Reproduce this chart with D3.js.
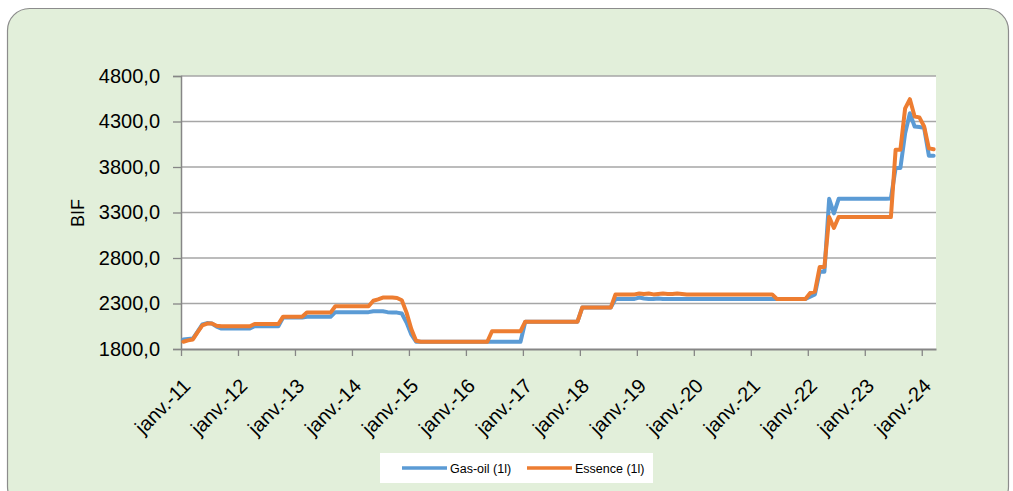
<!DOCTYPE html>
<html>
<head>
<meta charset="utf-8">
<script src="https://cdn.jsdelivr.net/npm/d3@7"></script>
<style>
  html, body { margin: 0; padding: 0; background: #ffffff; }
  svg { display: block; font-family: "Liberation Sans", Arial, sans-serif; }
</style>
</head>
<body>
<svg id="chart" width="1013" height="491"></svg>
<script>
// ---- Data (monthly, janv. 2011 – mars 2024), BIF per litre ----
const firstMonth = "2011-01";
const gasoil = [
  1905,1910,1915,1990,2070,2085,2080,2045,2025,2025,2025,2025, // 2011
  2025,2025,2025,2050,2050,2050,2050,2050,2050,2145,2145,2145, // 2012
  2145,2145,2155,2155,2155,2155,2155,2155,2205,2205,2205,2205, // 2013
  2205,2205,2205,2205,2215,2215,2215,2205,2200,2200,2190,2090, // 2014
  1960,1880,1880,1880,1880,1880,1880,1880,1880,1880,1880,1880, // 2015
  1880,1880,1880,1880,1880,1880,1880,1880,1880,1880,1880,1880, // 2016
  2100,2100,2100,2100,2100,2100,2100,2100,2100,2100,2100,2100, // 2017
  2255,2255,2255,2255,2255,2255,2255,2350,2350,2350,2350,2350, // 2018
  2365,2355,2350,2350,2355,2350,2350,2350,2350,2350,2350,2350, // 2019
  2350,2350,2350,2350,2350,2350,2350,2350,2350,2350,2350,2350, // 2020
  2350,2350,2350,2350,2350,2350,2350,2350,2350,2350,2350,2350, // 2021
  2375,2400,2650,2650,3450,3290,3450,3450,3450,3450,3450,3450, // 2022
  3450,3450,3450,3450,3450,3455,3790,3790,4170,4390,4245,4240, // 2023
  4230,3925,3925                                                // 2024
];
const essence = [
  1880,1895,1905,1985,2060,2080,2080,2055,2050,2050,2050,2050, // 2011
  2050,2050,2050,2075,2075,2075,2075,2075,2075,2155,2155,2155, // 2012
  2155,2155,2200,2200,2200,2200,2200,2200,2270,2270,2270,2270, // 2013
  2270,2270,2270,2270,2330,2345,2365,2365,2365,2360,2335,2200, // 2014
  2020,1890,1880,1880,1880,1880,1880,1880,1880,1880,1880,1880, // 2015
  1880,1880,1880,1880,1880,1995,1995,1995,1995,1995,1995,1995, // 2016
  2100,2100,2100,2100,2100,2100,2100,2100,2100,2100,2100,2100, // 2017
  2255,2255,2255,2255,2255,2255,2255,2400,2400,2400,2400,2400, // 2018
  2410,2405,2410,2400,2405,2410,2405,2405,2410,2405,2400,2400, // 2019
  2400,2400,2400,2400,2400,2400,2400,2400,2400,2400,2400,2400, // 2020
  2400,2400,2400,2400,2400,2350,2350,2350,2350,2350,2350,2350, // 2021
  2415,2430,2700,2700,3250,3130,3250,3250,3250,3250,3250,3250, // 2022
  3250,3250,3250,3250,3250,3250,3990,3990,4445,4545,4355,4345, // 2023
  4245,4005,3995                                                // 2024
];
const xTickLabels = ["janv.-11","janv.-12","janv.-13","janv.-14","janv.-15","janv.-16","janv.-17",
                     "janv.-18","janv.-19","janv.-20","janv.-21","janv.-22","janv.-23","janv.-24"];
const yTicks = [1800, 2300, 2800, 3300, 3800, 4300, 4800];
const seriesNames = ["Gas-oil (1l)", "Essence (1l)"];
const seriesColors = ["#5B9BD5", "#ED7D31"];
const yTitle = "BIF";

// ---- Layout ----
const svg = d3.select("#chart");
const plot = { left: 181, right: 936, top: 76, bottom: 349 };
const N = gasoil.length;

// chart area background (bottom edge runs off the picture)
svg.append("rect")
  .attr("x", 7.5).attr("y", 8.5)
  .attr("width", 1001).attr("height", 500)
  .attr("rx", 22).attr("ry", 22)
  .attr("fill", "#E2EFDA")
  .attr("stroke", "#8C8C8C").attr("stroke-width", 1.2);

// plot area
svg.append("rect")
  .attr("x", plot.left).attr("y", plot.top)
  .attr("width", plot.right - plot.left).attr("height", plot.bottom - plot.top)
  .attr("fill", "#ffffff");

const x = d3.scaleLinear().domain([0, N]).range([plot.left, plot.right]);
const y = d3.scaleLinear().domain([1800, 4800]).range([plot.bottom, plot.top]);

// gridlines
svg.append("g").selectAll("line")
  .data(yTicks.filter(d => d > 1800))
  .join("line")
  .attr("x1", plot.left).attr("x2", plot.right)
  .attr("y1", d => y(d)).attr("y2", d => y(d))
  .attr("stroke", "#A6A6A6").attr("stroke-width", 1.3);

// Y axis
const yAxis = d3.axisLeft(y)
  .tickValues(yTicks)
  .tickSize(8)
  .tickPadding(13)
  .tickFormat(d => d3.format(".1f")(d).replace(".", ","));
const gy = svg.append("g").attr("transform", `translate(${plot.left},0)`).call(yAxis);
gy.select(".domain").attr("stroke", "#868686").attr("stroke-width", 1.5);
gy.selectAll(".tick line").attr("stroke", "#868686").attr("stroke-width", 1.3);
gy.selectAll(".tick text")
  .attr("font-size", 20).attr("fill", "#000")
  .attr("font-family", "'Liberation Sans', Arial, sans-serif");

// X axis
const xAxis = d3.axisBottom(x)
  .tickValues(d3.range(0, N, 12))
  .tickSize(7)
  .tickSizeOuter(0)
  .tickFormat((d, i) => xTickLabels[i]);
const gx = svg.append("g").attr("transform", `translate(0,${plot.bottom})`).call(xAxis);
gx.select(".domain").attr("stroke", "#868686").attr("stroke-width", 2);
gx.selectAll(".tick line").attr("stroke", "#868686").attr("stroke-width", 1.3);
gx.selectAll(".tick text")
  .attr("font-size", 20).attr("fill", "#000")
  .attr("font-family", "'Liberation Sans', Arial, sans-serif")
  .attr("text-anchor", "end")
  .attr("dy", "0")
  .attr("transform", "translate(3,31) rotate(-45)");

// Y title
svg.append("text")
  .attr("transform", `translate(84,213) rotate(-90)`)
  .attr("text-anchor", "middle")
  .attr("font-size", 18)
  .attr("fill", "#000")
  .text(yTitle);

// lines
const line = d3.line()
  .x((d, i) => x(i + 0.5))
  .y(d => y(d));
[gasoil, essence].forEach((s, k) => {
  svg.append("path")
    .datum(s)
    .attr("fill", "none")
    .attr("stroke", seriesColors[k])
    .attr("stroke-width", 4)
    .attr("stroke-linejoin", "round")
    .attr("stroke-linecap", "round")
    .attr("d", line);
});

// legend
const lg = svg.append("g");
lg.append("rect")
  .attr("x", 380).attr("y", 453).attr("width", 273).attr("height", 30)
  .attr("fill", "#ffffff");
const legendX = [402, 527];
seriesNames.forEach((name, k) => {
  lg.append("line")
    .attr("x1", legendX[k]).attr("x2", legendX[k] + 45)
    .attr("y1", 468).attr("y2", 468)
    .attr("stroke", seriesColors[k]).attr("stroke-width", 3.5);
  lg.append("text")
    .attr("x", legendX[k] + 48).attr("y", 472.5)
    .attr("font-size", 12.5).attr("fill", "#000")
    .text(name);
});
</script>
</body>
</html>
